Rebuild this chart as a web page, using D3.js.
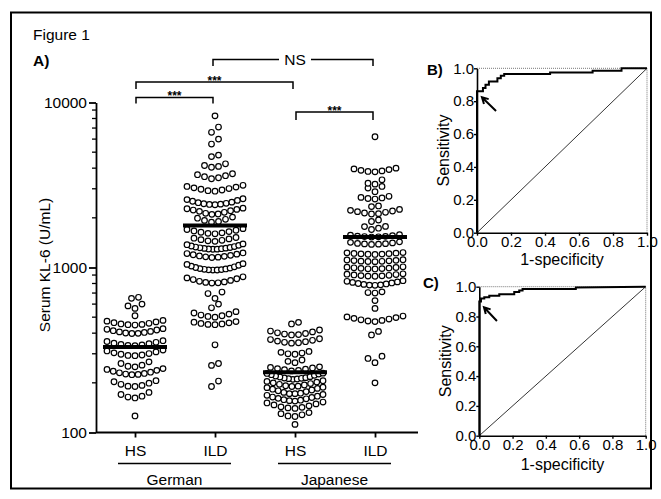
<!DOCTYPE html>
<html>
<head>
<meta charset="utf-8">
<script src="https://cdn.jsdelivr.net/npm/d3@7"></script>
<style>
  body { margin: 0; background: #fff; }
  text { font-family: "Liberation Sans", Arial, sans-serif; fill: #000; }
</style>
</head>
<body>
<div id="chart"></div>
<script>
// Categories and cohorts
const categories = ['HS', 'ILD', 'HS', 'ILD'];
const cohorts = ['German', 'Japanese'];

// Serum KL-6 (U/mL)
const germanHS = [126, 162, 164, 166, 170, 175, 190, 191, 193, 196, 199, 203, 206,
  224, 225, 226, 228, 230, 232, 235, 238, 241, 244, 250, 252, 256, 262, 268,
  292, 293, 295, 298, 301, 304, 308, 312, 316, 336, 337, 339, 342, 345, 348, 352, 356, 360,
  398, 399, 401, 404, 407, 410, 414, 418, 422, 426, 448, 450, 452, 455, 459, 463, 468, 473, 478,
  510, 565, 585, 600, 650, 660];
const germanILD = [190, 205, 255, 262, 340, 450, 452, 455, 458, 462, 466, 470,
  500, 505, 510, 515, 522, 530, 540, 570, 600, 650, 695, 710,
  805, 808, 812, 818, 825, 835, 845, 855, 865, 878,
  965, 966, 968, 971, 975, 980, 985, 992, 1000, 1010, 1020, 1032, 1044, 1055,
  1150, 1155, 1160, 1168, 1175, 1185, 1195, 1205, 1215, 1225,
  1290, 1292, 1295, 1300, 1305, 1310, 1316, 1322, 1330, 1340, 1350, 1362, 1375, 1390,
  1440, 1450, 1462, 1475, 1490, 1505, 1520, 1600, 1610, 1622, 1635, 1650, 1665, 1682, 1700, 1720,
  1880, 1900, 1930, 1960, 1990, 2020, 2100, 2110, 2130, 2160, 2190, 2210, 2230, 2250, 2270, 2290,
  2400, 2410, 2420, 2435, 2450, 2470, 2490, 2520, 2550, 2580, 2610,
  2900, 2920, 2950, 2980, 3010, 3040, 3070, 3100, 3150, 3450, 3500, 3550, 3600, 3650, 3700,
  4050, 4100, 4150, 4250, 4700, 4800, 5600, 6000, 6600, 7100, 8300];
const japaneseHS = [112, 125, 126, 128, 130, 132, 140, 141, 142, 143, 145, 147, 149, 151, 153,
  155, 156, 157, 158, 160, 161, 163, 164, 166, 168, 170,
  172, 172, 173, 175, 177, 179, 181, 183, 185, 187, 188,
  190, 191, 192, 194, 196, 198, 200, 202, 204, 206,
  210, 211, 212, 213, 214, 215, 217, 218, 220, 222, 224, 226, 228, 229,
  236, 238, 240, 242, 244, 246, 248, 250, 265, 270, 275, 298, 300, 303, 306, 310,
  348, 350, 352, 355, 358, 362, 366, 370, 390, 392, 395, 398, 402, 407, 412, 418, 455, 465];
const japaneseILD = [200, 265, 281, 290, 390, 410, 470, 474, 478, 482, 487, 492, 497, 502, 508,
  565, 630, 700, 705, 712, 780, 782, 785, 790, 795, 800, 806, 812, 818, 825, 832,
  885, 887, 890, 893, 897, 901, 906, 911, 916, 980, 982, 985, 988, 992, 996, 1000, 1005, 1010,
  1085, 1087, 1090, 1093, 1097, 1101, 1105, 1110, 1115, 1200, 1203, 1206, 1209, 1213, 1217, 1222, 1227, 1232,
  1380, 1385, 1390, 1395, 1400, 1410, 1420, 1430, 1530, 1535, 1540, 1545, 1550, 1560, 1570, 1580,
  1700, 1730, 1770, 1775, 1900, 1940, 2110, 2120, 2140, 2160, 2180, 2200, 2220, 2250,
  2340, 2360, 2600, 2620, 2640, 2660, 2700, 2880, 3030, 3100, 3200, 3240, 3400,
  3800, 3820, 3850, 3880, 3920, 3960, 4000, 6200];
const groups = [germanHS, germanILD, japaneseHS, japaneseILD];
const medians = [330, 1800, 232, 1530];
const yTicks = [100, 1000, 10000];

// ROC curves (1-specificity, sensitivity)
const rocB_fpr = [0, 0, 0.035, 0.035, 0.05, 0.05, 0.07, 0.07, 0.12, 0.12, 0.14, 0.14, 0.16, 0.16, 0.43, 0.43, 0.68, 0.68, 0.85, 0.85, 1];
const rocB_tpr = [0, 0.86, 0.86, 0.88, 0.88, 0.90, 0.90, 0.92, 0.92, 0.94, 0.94, 0.955, 0.955, 0.965, 0.965, 0.975, 0.975, 0.985, 0.985, 1, 1];
const rocC_fpr = [0, 0, 0.01, 0.01, 0.03, 0.03, 0.06, 0.06, 0.12, 0.12, 0.21, 0.21, 0.24, 0.24, 0.26, 0.26, 0.58, 0.58, 1];
const rocC_tpr = [0, 0.90, 0.90, 0.92, 0.92, 0.93, 0.93, 0.94, 0.94, 0.95, 0.95, 0.965, 0.965, 0.975, 0.975, 0.985, 0.985, 0.995, 1];
const rocTicks = [0, 0.2, 0.4, 0.6, 0.8, 1.0];

const font = 15.5;

let svg = d3
  .select('#chart')
  .append('svg')
  .attr('width', 661)
  .attr('height', 499);

// outer frame
svg.append('rect')
  .attr('x', 11).attr('y', 12.5)
  .attr('width', 640).attr('height', 476)
  .attr('fill', 'none').attr('stroke', '#000').attr('stroke-width', 2);

svg.append('text').attr('x', 33).attr('y', 40).style('font-size', font + 'px').text('Figure 1');
svg.append('text').attr('x', 33).attr('y', 66).style('font-size', font + 'px')
  .style('font-weight', 'bold').text('A)');

// Panel A scales
const y = d3.scaleLog().domain([100, 10000]).range([432.5, 102.5]);
const x = d3.scalePoint().domain(d3.range(categories.length)).range([95, 415]).padding(0.5);

// y axis with minor ticks
const yAxisG = svg.append('g').attr('transform', 'translate(96,0)');
yAxisG.call(d3.axisLeft(y).tickValues(yTicks).tickFormat(d3.format('d')).tickSize(7).tickSizeOuter(0).tickPadding(2));
yAxisG.selectAll('.tick')
  .data(y.ticks().filter((d) => yTicks.indexOf(d) < 0), (d) => d)
  .enter()
  .append('line')
  .attr('x1', -4).attr('x2', 0)
  .attr('y1', (d) => y(d)).attr('y2', (d) => y(d))
  .attr('stroke', '#000').attr('stroke-width', 1.3);
yAxisG.select('.domain').attr('stroke-width', 1.8);
yAxisG.selectAll('.tick line').attr('stroke-width', 1.8);
yAxisG.selectAll('text').style('font-size', font + 'px');

svg.append('text')
  .attr('transform', 'translate(50,265) rotate(-90)')
  .attr('text-anchor', 'middle')
  .style('font-size', font + 'px')
  .text('Serum KL-6 (U/mL)');

// x axis
svg.append('line').attr('x1', 96).attr('x2', 418).attr('y1', 432.5).attr('y2', 432.5)
  .attr('stroke', '#000').attr('stroke-width', 1.8);
const xAxisG = svg.append('g').attr('transform', 'translate(0,432.5)');
xAxisG.call(d3.axisBottom(x).tickFormat((i) => categories[i]).tickSize(5).tickSizeOuter(0).tickPadding(7));
xAxisG.select('.domain').remove();
xAxisG.selectAll('.tick line').attr('stroke-width', 1.8);
xAxisG.selectAll('text').style('font-size', font + 'px');

// cohort underline + label
cohorts.forEach((c, k) => {
  let x1 = x(2 * k) - 17;
  let x2 = x(2 * k + 1) + 16;
  svg.append('line').attr('x1', x1).attr('x2', x2).attr('y1', 463.5).attr('y2', 463.5)
    .attr('stroke', '#000').attr('stroke-width', 1.5);
  svg.append('text').attr('x', (x1 + x2) / 2).attr('y', 485).attr('text-anchor', 'middle')
    .style('font-size', font + 'px').text(c);
});

// beeswarm rows: bin by pixel height, spread each row center-out
const dotR = 2.8;
const dotStep = 7;
const binH = 7;
const maxHalf = 28;

function swarm(values, cx) {
  let sorted = values.slice().sort((a, b) => a - b);
  let rows = [];
  let row = null;
  sorted.forEach((v) => {
    if (!row || row.y0 - y(v) > binH) {
      row = { y0: y(v), vals: [] };
      rows.push(row);
    }
    row.vals.push(v);
  });
  let pts = [];
  rows.forEach((r) => {
    let n = r.vals.length;
    let s = n > 1 ? Math.min(dotStep, (2 * maxHalf) / (n - 1)) : 0;
    let offs = d3.range(n)
      .map((k) => (k - (n - 1) / 2) * s)
      .sort((a, b) => Math.abs(a) - Math.abs(b) || a - b);
    r.vals.forEach((v, i) => pts.push({ v: v, x: cx + offs[i], y: y(v) }));
  });
  return pts;
}

groups.forEach((vals, i) => {
  svg.append('g')
    .selectAll('circle')
    .data(swarm(vals, x(i)))
    .enter()
    .append('circle')
    .attr('cx', (d) => d.x)
    .attr('cy', (d) => d.y)
    .attr('r', dotR)
    .attr('fill', '#fff')
    .attr('stroke', '#000')
    .attr('stroke-width', 1.2);
});

// medians
svg.append('g')
  .selectAll('line')
  .data(medians)
  .enter()
  .append('line')
  .attr('x1', (d, i) => x(i) - 32)
  .attr('x2', (d, i) => x(i) + 32)
  .attr('y1', (d) => y(d))
  .attr('y2', (d) => y(d))
  .attr('stroke', '#000')
  .attr('stroke-width', 4);

// significance brackets
const brackets = [
  { a: 0, b: 1, top: 97.5, drop: 6, label: '***' },
  { a: 0, b: 2, top: 82, drop: 7, label: '***' },
  { a: 2, b: 3, top: 112, drop: 8, label: '***' },
];
brackets.forEach((br) => {
  let x1 = x(br.a) + 1;
  let x2 = x(br.b) - 2;
  svg.append('path')
    .attr('d', `M ${x1} ${br.top + br.drop} V ${br.top} H ${x2} V ${br.top + br.drop}`)
    .attr('fill', 'none').attr('stroke', '#000').attr('stroke-width', 1.5);
  svg.append('text')
    .attr('x', (x1 + x2) / 2).attr('y', br.top + 2.5)
    .attr('text-anchor', 'middle')
    .style('font-size', '12px').style('font-weight', 'bold')
    .text(br.label);
});

// NS bracket between the two ILD groups
let nsL = x(1) - 2;
let nsR = x(3) - 2;
let nsMid = (nsL + nsR) / 2;
svg.append('path')
  .attr('d', `M ${nsL} 66 V 59.5 H ${nsMid - 14} M ${nsMid + 18} 59.5 H ${nsR} V 66`)
  .attr('fill', 'none').attr('stroke', '#000').attr('stroke-width', 1.5);
svg.append('text').attr('x', nsMid + 2).attr('y', 65).attr('text-anchor', 'middle')
  .style('font-size', font + 'px').text('NS');

// ROC panels
function rocPanel(opt) {
  let rx = d3.scaleLinear().domain([0, 1]).range([opt.x0, opt.x1]);
  let ry = d3.scaleLinear().domain([0, 1]).range([opt.y0, opt.y1]);

  svg.append('text').attr('x', opt.lx).attr('y', opt.ly)
    .style('font-size', '15px').style('font-weight', 'bold').text(opt.label);

  // light dotted frame on top/right
  svg.append('path')
    .attr('d', `M ${rx(0)} ${ry(1)} H ${rx(1)} V ${ry(0)}`)
    .attr('fill', 'none').attr('stroke', '#777').attr('stroke-width', 1)
    .attr('stroke-dasharray', '1,1');

  let gx = svg.append('g').attr('transform', `translate(0,${ry(0)})`);
  gx.call(d3.axisBottom(rx).tickValues(rocTicks).tickFormat(d3.format('.1f')).tickSize(3).tickSizeOuter(0).tickPadding(1));
  let gy = svg.append('g').attr('transform', `translate(${rx(0)},0)`);
  gy.call(d3.axisLeft(ry).tickValues(rocTicks).tickFormat(d3.format('.1f')).tickSize(3).tickSizeOuter(0).tickPadding(0));
  [gx, gy].forEach((g) => {
    g.select('.domain').attr('stroke-width', 1.6);
    g.selectAll('.tick line').attr('stroke-width', 1.4);
    g.selectAll('text').style('font-size', '15px');
  });

  // chance line
  svg.append('line')
    .attr('x1', rx(0)).attr('y1', ry(0)).attr('x2', rx(1)).attr('y2', ry(1))
    .attr('stroke', '#000').attr('stroke-width', 0.8);

  let pts = opt.fpr.map((f, i) => [f, opt.tpr[i]]);
  svg.append('path')
    .datum(pts)
    .attr('d', d3.line().x((d) => rx(d[0])).y((d) => ry(d[1])))
    .attr('fill', 'none').attr('stroke', '#000').attr('stroke-width', 2);

  // arrow to the cut-off point
  let tx = rx(opt.arrow[0]), ty = ry(opt.arrow[1]);
  let hx = rx(opt.arrow[2]), hy = ry(opt.arrow[3]);
  let ang = Math.atan2(hy - ty, hx - tx);
  let hl = 7;
  let a1 = ang + Math.PI - 0.5, a2 = ang + Math.PI + 0.5;
  svg.append('path')
    .attr('d', `M ${tx} ${ty} L ${hx} ${hy} M ${hx + hl * Math.cos(a1)} ${hy + hl * Math.sin(a1)} L ${hx} ${hy} L ${hx + hl * Math.cos(a2)} ${hy + hl * Math.sin(a2)}`)
    .attr('fill', 'none').attr('stroke', '#000').attr('stroke-width', 2);

  svg.append('text')
    .attr('transform', `translate(${opt.sx},${(opt.y0 + opt.y1) / 2}) rotate(-90)`)
    .attr('text-anchor', 'middle').style('font-size', '16px').text('Sensitivity');
  svg.append('text')
    .attr('x', (opt.x0 + opt.x1) / 2).attr('y', opt.ty)
    .attr('text-anchor', 'middle').style('font-size', '16px').text('1-specificity');
}

rocPanel({
  label: 'B)', lx: 427, ly: 75,
  x0: 477, x1: 647, y0: 232.7, y1: 68.3,
  fpr: rocB_fpr, tpr: rocB_tpr,
  arrow: [0.112, 0.74, 0.029, 0.824],
  sx: 449, ty: 265,
});
rocPanel({
  label: 'C)', lx: 423, ly: 288,
  x0: 479.3, x1: 645.7, y0: 435.7, y1: 286.7,
  fpr: rocC_fpr, tpr: rocC_tpr,
  arrow: [0.106, 0.77, 0.028, 0.862],
  sx: 451, ty: 470,
});
</script>
</body>
</html>
